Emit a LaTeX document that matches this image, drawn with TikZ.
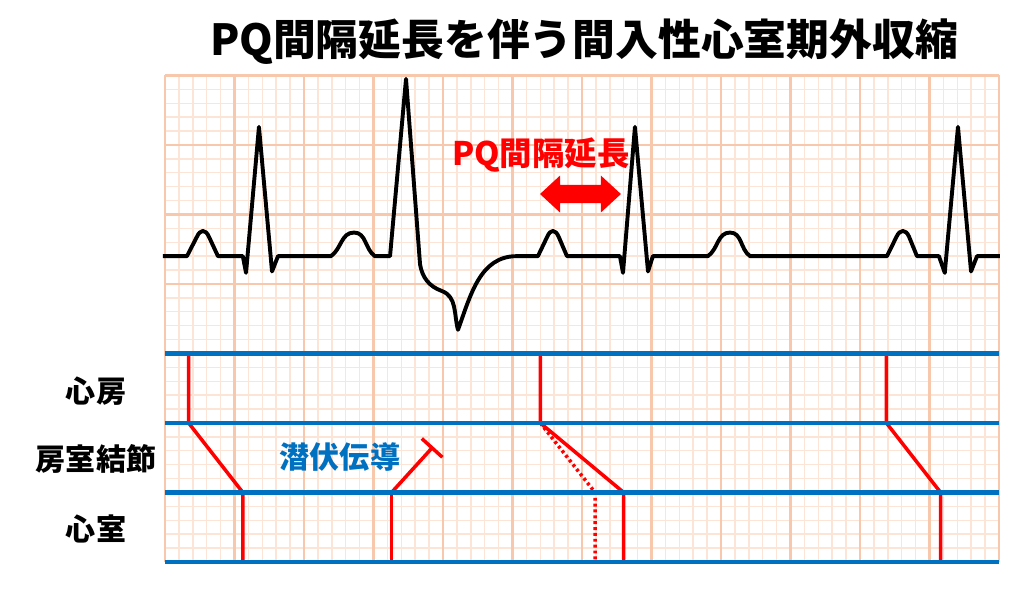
\documentclass[tikz,border=0pt]{standalone}
\usepackage{fontspec}
\newfontfamily\jpfont{Noto Sans CJK JP}
\usetikzlibrary{arrows.meta}
\definecolor{gridmajor}{RGB}{247,200,172}
\definecolor{gridminor}{RGB}{252,228,214}
\definecolor{ladderblue}{RGB}{0,112,192}
\definecolor{conducred}{RGB}{255,0,0}

\begin{document}
\begin{tikzpicture}[x=0.25cm,y=0.25cm,
  ecg/.style={line width=2pt, black, line join=round},
  ladder/.style={line width=2.3pt, ladderblue},
  conduct/.style={line width=1.8pt, conducred},
  rowlabel/.style={font=\jpfont\bfseries\fontsize{15.4}{18}\selectfont}]

\useasboundingbox (-11.87,-2.23) rectangle (61.8,40.43);

% ECG paper
\draw[gridminor, line width=0.75pt] (0,0) grid[step=1] (60,35);
\draw[gridmajor, line width=1.1pt] (0,0) grid[step=5] (60,35);

% ECG trace
\draw[ecg] (-0.15,22) -- (1.58,22) -- (2.3,23.4) .. controls (2.55,23.95) and (2.91,23.95) .. (3.16,23.4) -- (3.81,22)
 -- (5.6,22) -- (5.83,20.8) -- (6.76,31.3) -- (7.7,20.9) -- (8.13,22)
 -- (11.94,22) to[out=35,in=180] (13.6,23.7) to[out=0,in=145] (15.1,22)
 -- (16.19,22) -- (17.34,34.75) -- (18.35,21.4) to[out=-80,in=160] (19.9,19.5)
 to[out=-20,in=105] (21.08,16.7) to[out=70,in=180] (25.3,22)
 -- (26.83,22) -- (27.5,23.4) .. controls (27.74,23.95) and (28.08,23.95) .. (28.32,23.4) -- (28.92,22)
 -- (32.73,22) -- (32.95,20.8) -- (33.81,31.3) -- (34.75,20.9) -- (35.1,22)
 -- (39.06,22) to[out=35,in=180] (40.65,23.7) to[out=0,in=145] (42.09,22)
 -- (51.94,22) -- (52.63,23.4) .. controls (52.88,23.95) and (53.3,23.95) .. (53.53,23.4) -- (54.1,22)
 -- (55.68,22) -- (56.1,20.8) -- (57.05,31.3) -- (57.99,20.9) -- (58.42,22) -- (60.07,22);

% PQ arrow
\fill[conducred] (26.98,26.47) -- (28.42,27.8) -- (28.42,27.12) -- (31.36,27.12) -- (31.36,27.8)
 -- (32.8,26.47) -- (31.36,25.14) -- (31.36,25.82) -- (28.42,25.82) -- (28.42,25.14) -- cycle;
\node[font=\jpfont\bfseries\fontsize{16.6}{20}\selectfont, conducred] at (27.05,29.28) (pq) {PQ間隔延長};

% ladder diagram
\coordinate (atr1) at (1.7,15);   \coordinate (av1) at (1.7,10);
\coordinate (ven1) at (5.6,5);    \coordinate (end1) at (5.6,0);
\coordinate (pvc) at (16.3,5);    \coordinate (pvcend) at (16.3,0);
\coordinate (block) at (19.3,8.3);
\coordinate (atr2) at (27,15);    \coordinate (av2) at (27,10);
\coordinate (ven2) at (33,5);     \coordinate (end2) at (33,0);
\coordinate (ven2n) at (30.94,5); \coordinate (end2n) at (30.94,0);
\coordinate (atr3) at (51.9,15);  \coordinate (av3) at (51.9,10);
\coordinate (ven3) at (55.8,5);   \coordinate (end3) at (55.8,0);

\draw[conduct] (atr1) -- (av1) -- (ven1) -- (end1);
\draw[conduct] (pvcend) -- (pvc);
\draw[conduct, -{Bar[width=5mm]}] (pvc) -- (block);
\draw[conduct] (atr2) -- (av2) -- (ven2) -- (end2);
\draw[conduct, dash pattern=on 1.5pt off 1.5pt] (av2) -- (ven2n) -- (end2n);
\draw[conduct] (atr3) -- (av3) -- (ven3) -- (end3);

\foreach \y in {0,5,10,15}
  \draw[ladder] (0,\y) -- (60,\y);

\node[rowlabel] at (-4.96,12.3) (atrium) {心房};
\node[rowlabel] at (-4.96,7.4) (avnode) {房室結節};
\node[rowlabel] at (-4.96,2.4) (ventricle) {心室};
\node[font=\jpfont\bfseries\fontsize{15.4}{18}\selectfont, ladderblue] at (12.59,7.55) (concealed) {潜伏伝導};

\node[font=\jpfont\bfseries\fontsize{21.9}{26}\selectfont] at (30.14,37.4) (title) {PQ間隔延長を伴う間入性心室期外収縮};

\end{tikzpicture}
\end{document}
